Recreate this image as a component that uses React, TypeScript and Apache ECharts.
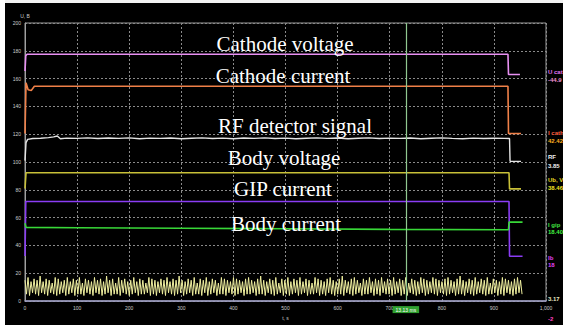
import React, { useEffect, useRef } from "react";
import * as echarts from "echarts";

// x in ms-like units (0..1000), y in axis units (0..200)
const cathodeVoltage: number[][] = [[0, 165.5], [1.5, 176.5], [4, 177.5], [927, 177.5], [928, 163], [950, 163]];
const cathodeCurrent: number[][] = [[0, 120.5], [2, 157], [6, 152], [12, 151.5], [18, 154.5], [927, 154.5], [928, 120.5], [952, 120.5]];
const rfSignal: number[][] = [
  [0, 101], [2, 114], [5, 116.3], [15, 116.9], [30, 117.1], [45, 117.6], [55, 118.1], [62, 118.7], [68, 116.8],
  [80, 117.2], [100, 117.0], [120, 117.4], [140, 116.9], [160, 117.3], [180, 117.0], [200, 117.4], [220, 116.8],
  [240, 117.2], [260, 117.0], [280, 117.3], [300, 116.8], [320, 117.1], [340, 117.4], [360, 116.9], [380, 117.2],
  [400, 116.8], [420, 117.3], [440, 117.0], [460, 117.4], [480, 116.9], [500, 117.2], [520, 116.8], [540, 117.1],
  [560, 117.4], [580, 117.0], [600, 117.3], [620, 116.8], [640, 117.1], [660, 117.4], [680, 116.9], [700, 117.2],
  [720, 117.0], [740, 117.3], [760, 116.8], [780, 117.1], [800, 117.4], [820, 117.0], [840, 116.8], [860, 117.2],
  [880, 116.9], [900, 117.1], [920, 117.0], [930, 116.9], [931, 100.5], [952, 100.5]
];
const bodyVoltage: number[][] = [[0, 81], [2, 92.3], [929, 92.3], [930, 80.7], [952, 80.7]];
const gipCurrent: number[][] = [[0, 56], [2, 53], [100, 52.8], [300, 52.4], [500, 52.0], [700, 51.6], [928, 51.3], [929, 56.8], [955, 56.8]];
const bodyCurrent: number[][] = [[0, 32.5], [1.5, 71.6], [929, 71.6], [930, 32.3], [955, 32.3]];
const noiseValues: number[] = [
  15, 5, 17, 4, 14, 6, 16, 5, 15, 4, 18, 6, 14, 5, 16, 4, 15, 6, 13, 5, 17, 4, 16, 5, 14, 6, 15, 4, 17, 5,
  14, 6, 16, 4, 15, 5, 17, 5, 13, 4, 16, 6, 15, 5, 14, 4, 17, 6, 15, 5, 16, 4, 14, 5, 18, 6, 15, 4, 16, 5,
  13, 5, 17, 4, 15, 6, 16, 5, 14, 4, 15, 5, 17, 6, 14, 4, 16, 5, 15, 5, 13, 6, 17, 4, 16, 5, 15, 4, 14, 6,
  16, 5, 15, 4, 17, 6, 14, 5, 16, 4, 15, 5, 18, 6, 15, 4, 14, 5, 16, 6, 15, 4, 17, 5, 13, 5, 16, 4, 15, 6,
  17, 4, 14, 5, 16, 6, 15, 4, 13, 5, 17, 5, 16, 4, 15, 6, 14, 5, 17, 4, 16, 5, 15, 6, 14, 4, 16, 5, 17, 5,
  15, 6, 14, 4, 16, 5, 18, 5, 15, 4, 14, 6, 16, 5, 15, 4, 17, 5, 13, 6, 16, 4, 15, 5, 17, 4, 14, 5, 16, 6,
  15, 4, 17, 5, 14, 6, 16, 4, 15, 5, 13, 5, 17, 6, 16, 4, 15, 5, 14, 4, 16, 6, 17, 5, 15, 4, 14, 5, 16, 5,
  18, 4, 15, 6, 14, 5, 16, 4, 17, 5, 15, 6, 13, 4, 16, 5, 15, 5, 17, 6, 14, 4, 16, 5, 15, 4, 17, 6, 14, 5,
  16, 5, 15, 4, 17, 5, 14, 6, 16, 4, 15, 5, 17, 4, 13, 6, 16, 5, 15, 4, 14, 5, 17, 6, 16, 4, 15, 5, 14, 6,
  17, 5, 16, 4, 15, 6, 14, 5, 16, 4, 17, 5, 15, 6, 14, 4, 16, 5, 18, 5, 15, 4, 14, 6, 16, 5, 15, 4, 17, 5,
  14, 6, 16, 5, 15, 4, 17, 5, 13, 5, 16, 6, 15, 4, 14, 5, 17, 4, 16, 6, 15, 5, 14, 4, 16, 5, 17, 6, 15, 5
];
const noiseEnd = 954;
const cursorX = 731;
const xMax = 1000;
const yMax = 200;

const annotations: string[] = [
  "Cathode voltage",
  "Cathode current",
  "RF detector signal",
  "Body voltage",
  "GIP current",
  "Body current",
];

export default function App() {
  const ref = useRef<HTMLDivElement>(null);
  useEffect(() => {
    if (!ref.current) return;
    const chart = echarts.init(ref.current, undefined, { renderer: "svg" });
    const noise = noiseValues.map((v, i) => [(i * noiseEnd) / (noiseValues.length - 1), v]);
    const lineSeries = (name: string, data: number[][], color: string, width = 1.6) => ({
      name,
      type: "line",
      data,
      symbol: "none",
      showSymbol: false,
      lineStyle: { color, width },
      z: 3,
    });
    const annY = [44, 76, 126, 158, 189, 224];
    const annX = [285, 283, 295, 284, 283, 286];
    const smallFont = "Liberation Sans";
    const side = [
      { t: "U cat", y: 72, c: "#e070ee" },
      { t: "-44.9", y: 80, c: "#f090d0" },
      { t: "I cath", y: 133, c: "#ff6040" },
      { t: "42.42", y: 141, c: "#ffb020" },
      { t: "RF", y: 157, c: "#f0f0f0" },
      { t: "3.85", y: 166, c: "#f0f0f0" },
      { t: "Ub, V", y: 180, c: "#e8d820" },
      { t: "38.46", y: 188, c: "#f0e020" },
      { t: "I gip", y: 225, c: "#40e040" },
      { t: "18.40", y: 232, c: "#40f040" },
      { t: "Ib", y: 258, c: "#e040f0" },
      { t: "18", y: 265, c: "#e040f0" },
      { t: "3.17", y: 299, c: "#e8e8c0" },
      { t: "-2", y: 319, c: "#ff40c0" },
    ];
    chart.setOption({
      animation: false,
      backgroundColor: "#000000",
      grid: { left: 25, top: 23, right: 17, bottom: 17, show: true, borderColor: "#9a9a9a", borderWidth: 1 },
      xAxis: {
        type: "value",
        min: 0,
        max: xMax,
        interval: 100,
        name: "t, s",
        nameLocation: "middle",
        nameGap: 9,
        nameTextStyle: { color: "#cccccc", fontSize: 5, fontFamily: smallFont },
        axisLine: { show: true, lineStyle: { color: "#a0a0c8", width: 1.5 } },
        axisTick: { show: false },
        axisLabel: { color: "#cccccc", fontSize: 5, margin: 4, fontFamily: smallFont },
        splitLine: { show: true, lineStyle: { color: "#8a8a8a", type: [2, 2], width: 1 } },
      },
      yAxis: {
        type: "value",
        min: 0,
        max: yMax,
        interval: 20,
        name: "U, B",
        nameLocation: "end",
        nameGap: 5,
        nameTextStyle: { color: "#cccccc", fontSize: 5, fontFamily: smallFont, align: "center" },
        axisLine: { show: true, lineStyle: { color: "#a0a0a0", width: 1 } },
        axisTick: { show: false },
        axisLabel: { color: "#cccccc", fontSize: 5, margin: 4, fontFamily: smallFont },
        splitLine: { show: true, lineStyle: { color: "#8a8a8a", type: [2, 2], width: 1 } },
      },
      series: [
        {
          ...lineSeries("Noise", noise, "#f0f0a0", 1),
          markLine: {
            silent: true,
            symbol: "none",
            lineStyle: { color: "#90c890", width: 1.2, type: "solid" },
            label: {
              show: true,
              position: "start",
              formatter: "13.13 ms",
              color: "#ffffff",
              backgroundColor: "#30a030",
              fontSize: 5,
              padding: [1, 3],
              fontFamily: smallFont,
            },
            data: [{ xAxis: cursorX }],
          },
        },
        lineSeries("Body current", bodyCurrent, "#8a3cf4"),
        lineSeries("GIP current", gipCurrent, "#38d838"),
        lineSeries("Body voltage", bodyVoltage, "#c8c038"),
        lineSeries("RF detector signal", rfSignal, "#e4e4e4", 1.4),
        lineSeries("Cathode current", cathodeCurrent, "#f08048"),
        lineSeries("Cathode voltage", cathodeVoltage, "#e890f2"),
      ],
      graphic: [
        { type: "rect", shape: { x: 0, y: 0, width: 563, height: 3 }, style: { fill: "#f2f2f2" }, z: 50 },
        { type: "rect", shape: { x: 0, y: 0, width: 5, height: 325 }, style: { fill: "#ffffff" }, z: 50 },
        ...annotations.map((t, i) => ({
          type: "text",
          x: annX[i],
          y: annY[i],
          z: 60,
          style: {
            text: t,
            fill: "#ffffff",
            font: "21px 'Liberation Serif'",
            textAlign: "center",
            textVerticalAlign: "middle",
          },
        })),
        ...side.map((s) => ({
          type: "text",
          x: 548,
          y: s.y,
          z: 60,
          style: {
            text: s.t,
            fill: s.c,
            font: "bold 6px 'Liberation Sans'",
            textAlign: "left",
            textVerticalAlign: "middle",
          },
        })),
      ],
    });
    return () => chart.dispose();
  }, []);
  return (
    <div
      ref={ref}
      style={{ position: "fixed", left: 0, top: 0, width: 563, height: 325 }}
    />
  );
}
